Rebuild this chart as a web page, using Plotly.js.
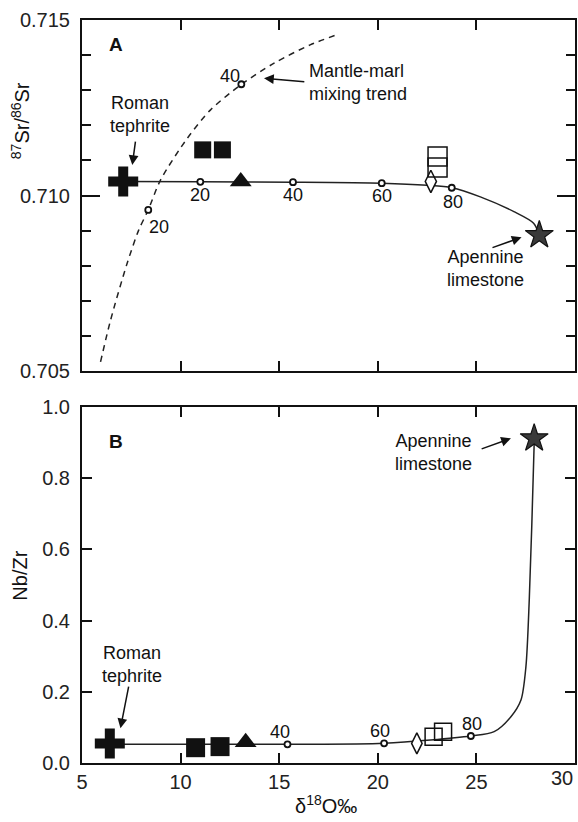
<!DOCTYPE html>
<html>
<head>
<meta charset="utf-8">
<script src="https://cdn.plot.ly/plotly-3.0.1.min.js"></script>
<style>
  html, body { margin: 0; padding: 0; background: #fff; }
  #chart { width: 578px; height: 822px; }
</style>
</head>
<body>
<div id="chart"></div>
<script>
// ---------- Panel A: 87Sr/86Sr versus d18O ----------
const aTephriteX = [7.09];
const aTephriteY = [0.7104];
const aFilledSqX = [11.12, 12.12];
const aFilledSqY = [0.7113, 0.7113];
const aTriangleX = [13.05];
const aTriangleY = [0.7104];
const aDiamondX = [22.69];
const aDiamondY = [0.7104];
const aOpenSqX = [23.03, 23.03];
const aOpenSqY = [0.71111, 0.71080];
const aLimestoneX = [28.19];
const aLimestoneY = [0.70887];

// tephrite - limestone mixing curve
const aMixX = [7.09, 11.0, 15.7, 20.2, 22.5, 23.75, 25.2, 26.9, 27.9, 28.19];
const aMixY = [0.71040, 0.71039, 0.71038, 0.71035, 0.71029, 0.71022, 0.70996, 0.70954, 0.70921, 0.70887];
const aMixTickX = [11.0, 15.7, 20.2, 23.75];
const aMixTickY = [0.71039, 0.71038, 0.71035, 0.71022];
const aMixTickLabels = ['20', '40', '60', '80'];

// mantle - marl mixing trend
const aMantleX = [5.94, 6.45, 7.29, 7.88, 8.36, 8.98, 10.34, 11.52, 13.05, 14.74, 16.57, 17.87];
const aMantleY = [0.70526, 0.70645, 0.70807, 0.70902, 0.70959, 0.71044, 0.71163, 0.71244, 0.71315, 0.71377, 0.71429, 0.71457];
const aMantleTickX = [8.36, 13.08];
const aMantleTickY = [0.70959, 0.71317];
const aMantleTickLabels = ['20', '40'];

const aYTicks = [0.705, 0.710, 0.715];

// ---------- Panel B: Nb/Zr versus d18O ----------
const bTephriteX = [6.41];
const bTephriteY = [0.055];
const bFilledSqX = [10.76, 12.0];
const bFilledSqY = [0.043, 0.046];
const bTriangleX = [13.3];
const bTriangleY = [0.058];
const bDiamondX = [21.98];
const bDiamondY = [0.055];
const bOpenSqX = [22.83, 23.31];
const bOpenSqY = [0.074, 0.088];
const bLimestoneX = [27.93];
const bLimestoneY = [0.912];

const bMixX = [6.41, 15.42, 20.32, 24.72, 25.9, 26.75, 27.26, 27.51, 27.68, 27.93, 27.93];
const bMixY = [0.0525, 0.0525, 0.0553, 0.0758, 0.088, 0.130, 0.177, 0.270, 0.458, 0.898, 0.912];
const bMixTickX = [15.42, 20.32, 24.72];
const bMixTickY = [0.0525, 0.0553, 0.0758];
const bMixTickLabels = ['40', '60', '80'];

const xTicks = [5, 10, 15, 20, 25, 30];
const xTickLabels = ['5', '10', '15', '20', '25', ''];
const xLastLabel = '30';
const bYTicks = [0.0, 0.2, 0.4, 0.6, 0.8, 1.0];

// ---------- styling ----------
const FONT = 'Liberation Sans, Arial, Helvetica, sans-serif';
const INK = '#111';
const LINE = '#222';

function pts(x, y, xa, ya, symbol, size, fill, lineColor, lineWidth) {
  return {
    type: 'scatter', mode: 'markers', x: x, y: y, xaxis: xa, yaxis: ya,
    marker: { symbol: symbol, size: size, color: fill,
              line: { color: lineColor, width: lineWidth } },
    hoverinfo: 'skip', showlegend: false
  };
}
function curve(x, y, xa, ya, dash) {
  return {
    type: 'scatter', mode: 'lines', x: x, y: y, xaxis: xa, yaxis: ya,
    line: { color: LINE, width: 1.5, shape: 'spline', smoothing: 0.8, dash: dash || 'solid' },
    hoverinfo: 'skip', showlegend: false
  };
}
function ticks(x, y, xa, ya) {
  return pts(x, y, xa, ya, 'circle', 6, '#fff', INK, 1.8);
}

const traces = [
  // panel A (top: x2 / y2)
  curve(aMantleX, aMantleY, 'x2', 'y2', '6px,5px'),
  curve(aMixX, aMixY, 'x2', 'y2'),
  ticks(aMixTickX, aMixTickY, 'x2', 'y2'),
  ticks(aMantleTickX, aMantleTickY, 'x2', 'y2'),
  pts(aTephriteX, aTephriteY, 'x2', 'y2', 'cross', 25, INK, INK, 0),
  pts(aFilledSqX, aFilledSqY, 'x2', 'y2', 'square', 17, INK, INK, 0),
  pts(aTriangleX, aTriangleY, 'x2', 'y2', 'triangle-up', 19, INK, INK, 0),
  pts(aDiamondX, aDiamondY, 'x2', 'y2', 'diamond-tall', 16, '#fff', INK, 1.5),
  pts(aOpenSqX, aOpenSqY, 'x2', 'y2', 'square', 19, 'rgba(255,255,255,0)', INK, 1.5),
  pts(aLimestoneX, aLimestoneY, 'x2', 'y2', 'star', 21, '#3a3a3a', INK, 1.2),

  // panel B (bottom: x / y)
  curve(bMixX, bMixY, 'x', 'y'),
  ticks(bMixTickX, bMixTickY, 'x', 'y'),
  pts(bTephriteX, bTephriteY, 'x', 'y', 'cross', 25, INK, INK, 0),
  pts(bFilledSqX, bFilledSqY, 'x', 'y', 'square', 19, INK, INK, 0),
  pts(bTriangleX, bTriangleY, 'x', 'y', 'triangle-up', 19, INK, INK, 0),
  pts(bDiamondX, bDiamondY, 'x', 'y', 'diamond-tall', 15, '#fff', INK, 1.5),
  pts(bOpenSqX, bOpenSqY, 'x', 'y', 'square', 17, 'rgba(255,255,255,0)', INK, 1.5),
  pts(bLimestoneX, bLimestoneY, 'x', 'y', 'star', 21, '#3a3a3a', INK, 1.2)
];

const annotations = [];
function label(text, x, y, xr, yr, opts) {
  annotations.push(Object.assign({
    text: text, x: x, y: y, xref: xr, yref: yr, showarrow: false,
    xanchor: 'center', yanchor: 'middle',
    font: { family: FONT, size: 18, color: INK }
  }, opts || {}));
}
function arrow(x, y, ax, ay, xr, yr) {
  annotations.push({
    text: '', x: x, y: y, ax: ax, ay: ay, xref: xr, yref: yr, axref: xr, ayref: yr,
    showarrow: true, arrowhead: 2, arrowsize: 1.3, arrowwidth: 1.5, arrowcolor: INK,
    standoff: 0, startstandoff: 0
  });
}

// percentage labels along the mixing curves
const aMixShift = [[0, -13], [0, -13], [0, -13], [1, -14]];
aMixTickLabels.forEach((t, i) => label(t, aMixTickX[i], aMixTickY[i], 'x2', 'y2',
  { xshift: aMixShift[i][0], yshift: aMixShift[i][1] }));
const aMantleShift = [[11, -17], [-11, 8]];
aMantleTickLabels.forEach((t, i) => label(t, aMantleTickX[i], aMantleTickY[i], 'x2', 'y2',
  { xshift: aMantleShift[i][0], yshift: aMantleShift[i][1] }));
const bMixShift = [[-7, 12], [-4, 12], [1, 12]];
bMixTickLabels.forEach((t, i) => label(t, bMixTickX[i], bMixTickY[i], 'x', 'y',
  { xshift: bMixShift[i][0], yshift: bMixShift[i][1] }));

// panel A labels
label('<b>A</b>', 6.71, 0.71429, 'x2', 'y2', { font: { family: FONT, size: 19, color: INK } });
label('Roman<br>tephrite', 7.94, 0.71232, 'x2', 'y2');
arrow(7.55, 0.71087, 7.72, 0.71158, 'x2', 'y2');
label('Mantle-marl<br>mixing trend', 16.4, 0.71322, 'x2', 'y2', { xanchor: 'left', align: 'left' });
arrow(14.23, 0.71334, 16.35, 0.71324, 'x2', 'y2');
label('Apennine<br>limestone', 25.46, 0.70791, 'x2', 'y2');
arrow(27.29, 0.70881, 25.74, 0.7085, 'x2', 'y2');

// panel B labels
label('<b>B</b>', 6.71, 0.9025, 'x', 'y', { font: { family: FONT, size: 19, color: INK } });
label('Roman<br>tephrite', 7.55, 0.2775, 'x', 'y');
arrow(6.95, 0.0975, 7.38, 0.219, 'x', 'y');
label('Apennine<br>limestone', 22.83, 0.872, 'x', 'y');
arrow(26.75, 0.912, 25.19, 0.881, 'x', 'y');

// last x tick label, kept inside the page edge
label(xLastLabel, 30, -0.0205, 'x', 'paper',
  { xanchor: 'right', font: { family: FONT, size: 20, color: '#222' } });

// axis titles
label('<sup>87</sup>Sr/<sup>86</sup>Sr', -0.126, 0.865, 'paper', 'paper',
  { textangle: -90, font: { family: FONT, size: 20, color: INK } });
label('Nb/Zr', -0.126, 0.252, 'paper', 'paper',
  { textangle: -90, font: { family: FONT, size: 20, color: INK } });
label('δ<sup>18</sup>O‰', 0.495, -0.0565, 'paper', 'paper',
  { font: { family: FONT, size: 20, color: INK } });

const axisBase = {
  showline: true, linecolor: INK, linewidth: 2, mirror: 'ticks',
  ticks: 'inside', ticklen: 10, tickwidth: 2, tickcolor: INK,
  showgrid: false, zeroline: false, fixedrange: true,
  tickfont: { family: FONT, size: 20, color: '#222' }
};

const layout = {
  width: 578, height: 822,
  margin: { l: 82, r: 3, t: 20, b: 59 },
  paper_bgcolor: '#fff', plot_bgcolor: '#fff',
  showlegend: false,
  font: { family: FONT, color: INK },
  xaxis: Object.assign({}, axisBase, {
    anchor: 'y', range: [5, 30], tickvals: xTicks, ticktext: xTickLabels,
    ticklabelstandoff: 0, ticklabeloverflow: 'allow'
  }),
  yaxis: Object.assign({}, axisBase, {
    domain: [0, 0.4791], range: [0, 1], tickvals: bYTicks, tickformat: '.1f',
    ticklabelstandoff: 6
  }),
  xaxis2: Object.assign({}, axisBase, {
    anchor: 'y2', range: [5, 30], tickvals: xTicks, showticklabels: false
  }),
  yaxis2: Object.assign({}, axisBase, {
    domain: [0.5276, 1], range: [0.705, 0.715], tickvals: aYTicks, tickformat: '.3f',
    ticklen: 18, ticklabelstandoff: 6,
    minor: { dtick: 0.001, tick0: 0.705, ticks: 'inside', ticklen: 9, tickwidth: 2, tickcolor: INK }
  }),
  annotations: annotations
};

Plotly.newPlot('chart', traces, layout, { staticPlot: true, displayModeBar: false });
</script>
</body>
</html>
